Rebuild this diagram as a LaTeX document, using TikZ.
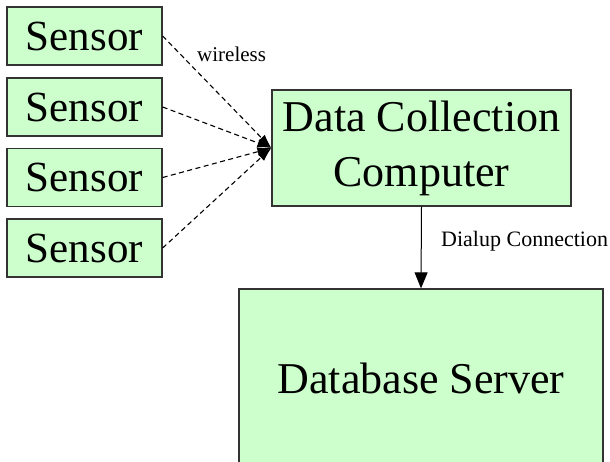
\documentclass[tikz,border=0pt]{standalone}
\usepackage{fontspec}
\setmainfont{Liberation Serif}
\usetikzlibrary{arrows.meta}
\definecolor{boxgreen}{HTML}{CCFFCC}
\definecolor{boxline}{HTML}{333333}
\begin{document}
\begin{tikzpicture}[x=1pt,y=-1pt,
  box/.style={draw=boxline,line width=1.3pt,fill=boxgreen,inner sep=0pt,align=center},
  sensorbox/.style={box,minimum width=155pt,minimum height=58pt,font=\fontsize{43}{48}\selectfont},
  wl/.style={dash pattern=on 5pt off 3.5pt,line width=1.1pt,-{Latex[length=14pt,width=9pt]}},
  lbl/.style={inner sep=0pt,anchor=west}]
\useasboundingbox (0,0) rectangle (610,461);
\clip (0,0) rectangle (610,461);
\fill[white] (0,0) rectangle (610,461);
\node[sensorbox] (s1) at (84.5,36) {Sensor};
\node[sensorbox] (s2) at (84.5,107) {Sensor};
\node[sensorbox] (s3) at (84.5,177.5) {Sensor};
\node[sensorbox] (s4) at (84.5,248) {Sensor};
\node[box,minimum width=299pt,minimum height=116pt,font=\fontsize{44}{55}\selectfont] (dcc) at (421.5,148) {Data Collection\\Computer};
\node[box,minimum width=364pt,minimum height=178pt,font=\fontsize{44}{52}\selectfont] (db) at (421,378) {Database Server};
\draw[wl] (s1.east) -- (dcc.west);
\draw[wl] (s2.east) -- (dcc.west);
\draw[wl] (s3.east) -- (dcc.west);
\draw[wl] (s4.east) -- (dcc.west);
\draw[line width=1pt,-{Triangle[length=16pt,width=13pt]}] (dcc.south) -- (db.north);
\node[lbl,font=\fontsize{21}{24}\selectfont] (wlabel) at (197,54) {wireless};
\node[lbl,font=\fontsize{22}{26}\selectfont] (dlabel) at (441,241) {Dialup Connection};
\end{tikzpicture}
\end{document}
